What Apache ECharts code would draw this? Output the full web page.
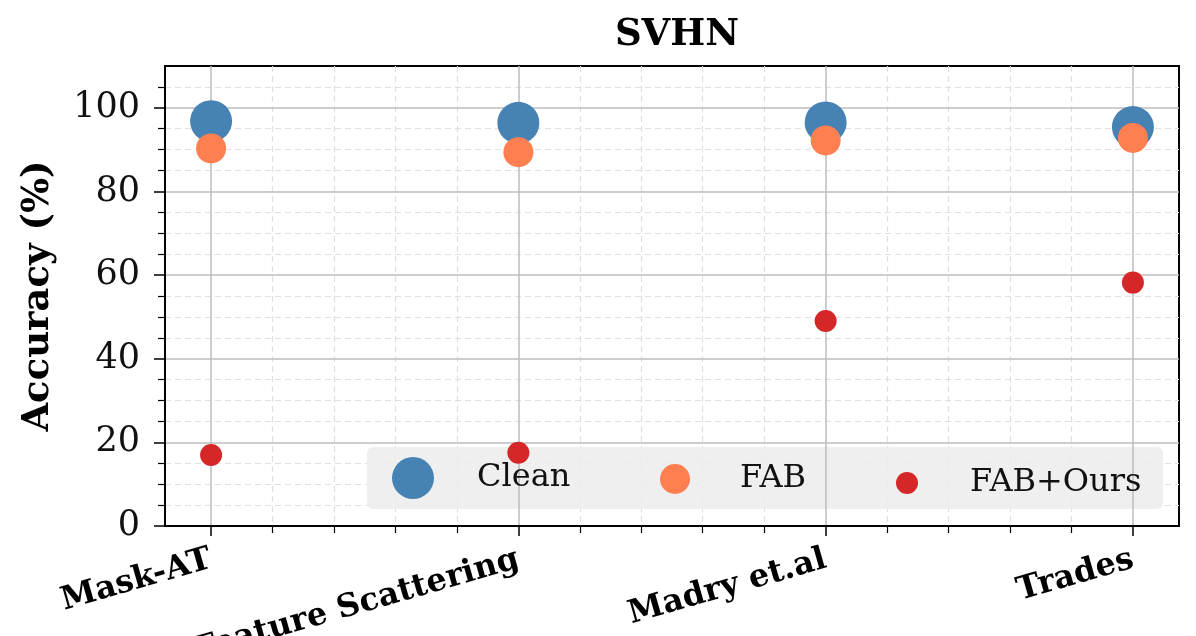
<!DOCTYPE html>
<html>
<head>
<meta charset="utf-8">
<title>SVHN</title>
<script src="https://cdn.jsdelivr.net/npm/echarts@6/dist/echarts.min.js"></script>
<style>
  html, body { margin: 0; padding: 0; background: #fff; }
  #main { width: 1196px; height: 636px; }
</style>
</head>
<body>
<div id="main"></div>
<script>
// data
var categories = ['Mask-AT', 'Feature Scattering', 'Madry et.al', 'Trades'];
var clean = [96.8, 96.4, 96.5, 95.4];
var fab = [90.3, 89.4, 92.2, 92.8];
var fabOurs = [17.0, 17.5, 49.0, 58.2];
var yTicks = [0, 20, 40, 60, 80, 100];

var font = 'DejaVu Serif';

// major / minor tick positions
var xMajor = categories.map(function (c, i) { return i; });
var xMinor = [];
for (var i = 0; i < categories.length - 1; i++) {
  for (var k = 1; k < 5; k++) xMinor.push(i + k * 0.2);
}
var yMinor = [];
for (var v = 5; v <= 105; v += 5) {
  if (v % 20 !== 0) yMinor.push(v);
}

function pts(arr) {
  return arr.map(function (val, i) { return [i, val]; });
}

var myChart = echarts.init(document.getElementById('main'));

var option = {
  backgroundColor: '#fff',
  animation: false,
  title: {
    text: 'SVHN',
    left: 672,
    top: 12,
    textAlign: 'center',
    textStyle: { fontFamily: font, fontSize: 37, fontWeight: 'bold', color: '#000' }
  },
  grid: {
    left: 165,
    right: 17,
    top: 66,
    bottom: 110,
    show: true,
    borderColor: '#000',
    borderWidth: 2,
    backgroundColor: 'transparent',
    outerBoundsMode: 'none'
  },
  // legend box behind the three legend entries
  graphic: [{
    type: 'rect',
    z: 1,
    shape: { x: 367, y: 447, width: 796, height: 62, r: 6 },
    style: { fill: 'rgba(236,236,236,0.85)' },
    silent: true
  }],
  legend: [
    {
      data: ['Clean'], left: 392, top: 457, itemWidth: 42, itemHeight: 42,
      icon: 'circle', selectedMode: false, padding: 0,
      textStyle: { fontFamily: font, fontSize: 32, color: '#111', padding: [0, 0, 0, 38] }
    },
    {
      data: ['FAB'], left: 660, top: 463, itemWidth: 30, itemHeight: 30,
      icon: 'circle', selectedMode: false, padding: 0,
      textStyle: { fontFamily: font, fontSize: 32, color: '#111', padding: [0, 0, 0, 45] }
    },
    {
      data: ['FAB+Ours'], left: 896, top: 467, itemWidth: 22, itemHeight: 22,
      icon: 'circle', selectedMode: false, padding: 0,
      textStyle: { fontFamily: font, fontSize: 32, color: '#111', padding: [0, 0, 0, 47] }
    }
  ],
  xAxis: [
    {
      // minor grid
      type: 'value', min: -0.15, max: 3.15, z: 0, position: 'bottom',
      axisLine: { show: false, onZero: false },
      axisLabel: { show: false },
      axisTick: { show: true, customValues: xMinor, length: 7, lineStyle: { color: '#000', width: 1.2 } },
      splitLine: { show: true, lineStyle: { color: '#e0e0e0', width: 1.2, type: [6, 4] } }
    },
    {
      type: 'value', min: -0.15, max: 3.15, z: 1, position: 'bottom',
      axisLine: { show: true, onZero: false, lineStyle: { color: '#000', width: 2 } },
      axisTick: { show: true, customValues: xMajor, length: 10, lineStyle: { color: '#000', width: 1.5 } },
      axisLabel: {
        customValues: xMajor,
        rotate: 16,
        margin: 33,
        fontFamily: font,
        fontSize: 32,
        fontWeight: 'bold',
        color: '#000',
        formatter: function (val) { return categories[Math.round(val)]; }
      },
      splitLine: { show: true, lineStyle: { color: '#bdbdbd', width: 1.5 } }
    }
  ],
  yAxis: [
    {
      type: 'value', min: 0, max: 110, z: 0, position: 'left',
      axisLine: { show: false, onZero: false },
      axisLabel: { show: false },
      axisTick: { show: true, customValues: yMinor, length: 7, lineStyle: { color: '#000', width: 1.2 } },
      splitLine: { show: true, lineStyle: { color: '#e0e0e0', width: 1.2, type: [6, 4] } }
    },
    {
      type: 'value', min: 0, max: 110, z: 1, position: 'left',
      name: 'Accuracy (%)',
      nameLocation: 'middle',
      nameGap: 108,
      nameTextStyle: { fontFamily: font, fontSize: 37, fontWeight: 'bold', color: '#000' },
      axisLine: { show: true, onZero: false, lineStyle: { color: '#000', width: 2 } },
      axisTick: { show: true, customValues: yTicks, length: 11, lineStyle: { color: '#000', width: 1.5 } },
      axisLabel: {
        customValues: yTicks,
        margin: 25,
        fontFamily: font,
        fontSize: 35,
        color: '#111'
      },
      splitLine: { show: true, lineStyle: { color: '#bdbdbd', width: 1.5 } }
    }
  ],
  series: [
    {
      name: 'Clean', type: 'scatter', xAxisIndex: 1, yAxisIndex: 1,
      symbolSize: 42, data: pts(clean),
      itemStyle: { color: '#4682b4', opacity: 1 }
    },
    {
      name: 'FAB', type: 'scatter', xAxisIndex: 1, yAxisIndex: 1,
      symbolSize: 30, data: pts(fab),
      itemStyle: { color: '#ff7f50', opacity: 1 }
    },
    {
      name: 'FAB+Ours', type: 'scatter', xAxisIndex: 1, yAxisIndex: 1,
      symbolSize: 22, data: pts(fabOurs),
      itemStyle: { color: '#d62728', opacity: 1 }
    }
  ]
};

myChart.setOption(option);
</script>
</body>
</html>
